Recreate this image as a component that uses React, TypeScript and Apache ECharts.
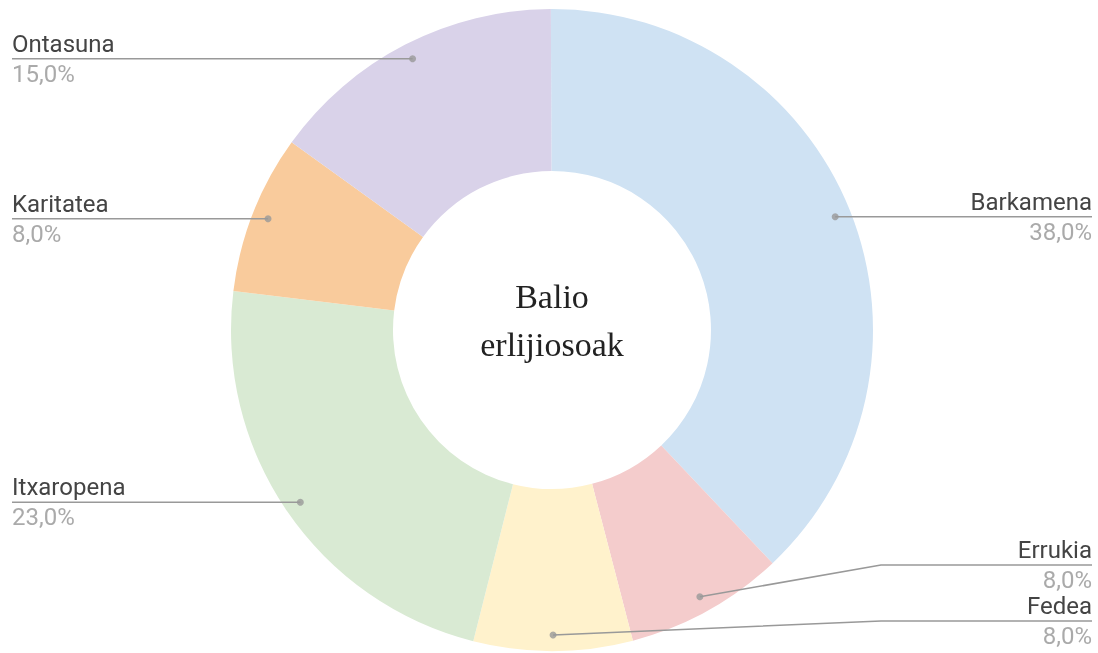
import React, { useEffect, useRef } from 'react';
import * as echarts from 'echarts';

const categories = ['Barkamena', 'Errukia', 'Fedea', 'Itxaropena', 'Karitatea', 'Ontasuna'];
const values = [38, 8, 8, 23, 8, 15];
const colors = ['#cfe2f3', '#f4cccc', '#fff2cc', '#d9ead3', '#f9cb9c', '#d9d2e9'];
const centerTitle = ['Balio', 'erlijiosoak'];

const CX = 552;
const CY = 330;
const R_OUT = 321;
const R_IN = 159;
const R_DOT = 305;
const START = 90.2;
const LABEL_LEFT = 12;
const LABEL_RIGHT = 1092;
const BEND_GAP = 8;

export default function App() {
  const ref = useRef<HTMLDivElement>(null);
  useEffect(() => {
    const chart = echarts.init(ref.current as HTMLDivElement, null, { renderer: 'svg' });
    const total = values.reduce((a, b) => a + b, 0);
    let cum = 0;
    const dotData = values.map((v) => {
      const mid = cum + v / 2;
      cum += v;
      return [R_DOT, mid];
    });
    const pieData = categories.map((name, i) => ({ name, value: values[i], itemStyle: { color: colors[i] } }));
    const labelData = categories.map((name, i) => ({ name, value: values[i] }));

    chart.setOption({
      animation: false,
      polar: { center: [CX, CY], radius: R_OUT },
      angleAxis: { type: 'value', min: 0, max: total, startAngle: START, clockwise: true, show: false },
      radiusAxis: { type: 'value', min: 0, max: R_OUT, show: false },
      graphic: [
        {
          type: 'text',
          x: CX,
          y: 320,
          z: 10,
          style: {
            text: centerTitle.join('\n'),
            fontSize: 34,
            fontFamily: '"Liberation Serif", "Times New Roman", serif',
            fill: '#222',
            align: 'center',
            verticalAlign: 'middle',
            lineHeight: 48,
          },
        },
      ],
      series: [
        {
          type: 'pie',
          center: [CX, CY],
          radius: [R_IN, R_OUT],
          startAngle: START,
          clockwise: true,
          silent: true,
          label: { show: false },
          labelLine: { show: false },
          data: pieData,
          z: 1,
        },
        {
          type: 'pie',
          left: 0,
          top: 0,
          right: 0,
          bottom: 4,
          center: [CX, CY],
          radius: [0, R_DOT],
          startAngle: START,
          clockwise: true,
          silent: true,
          z: 3,
          itemStyle: { color: 'rgba(0,0,0,0)' },
          avoidLabelOverlap: true,
          data: labelData,
          label: {
            show: true,
            position: 'outside',
            alignTo: 'edge',
            edgeDistance: LABEL_LEFT,
            distanceToLabelLine: 0,
            minMargin: 2,
            fontFamily: 'Roboto',
            formatter: (p: any) => `{n|${p.name}}\n{p|${p.percent.toFixed(1).replace('.', ',')}%}`,
            rich: {
              n: { fontFamily: 'Roboto', fontSize: 24, color: '#444', lineHeight: 30 },
              p: { fontFamily: 'Roboto', fontSize: 24, color: '#aaa', lineHeight: 30 },
            },
          },
          labelLine: { show: true, length: 0, length2: 5, lineStyle: { color: '#999', width: 1.5 } },
          labelLayout: (params: any) => {
            const pts = params.labelLinePoints;
            if (!pts) return {};
            const start = pts[0];
            const y = pts[pts.length - 1][1];
            const isLeft = start[0] < CX;
            const edgeX = isLeft ? LABEL_LEFT : LABEL_RIGHT;
            const bendX = Math.abs(y - start[1]) < 1 ? start[0] : isLeft ? CX - R_OUT - BEND_GAP : CX + R_OUT + BEND_GAP;
            return {
              x: edgeX,
              y,
              align: isLeft ? 'left' : 'right',
              verticalAlign: 'middle',
              labelLinePoints: [
                [start[0], start[1]],
                [bendX, y],
                [edgeX, y],
              ],
            };
          },
        },
        {
          type: 'scatter',
          coordinateSystem: 'polar',
          data: dotData,
          symbol: 'circle',
          symbolSize: 7,
          itemStyle: { color: '#999' },
          silent: true,
          z: 5,
        },
      ],
    });
    return () => chart.dispose();
  }, []);
  return <div ref={ref} style={{ position: 'fixed', left: 0, top: 0, width: 1098, height: 653 }} />;
}
